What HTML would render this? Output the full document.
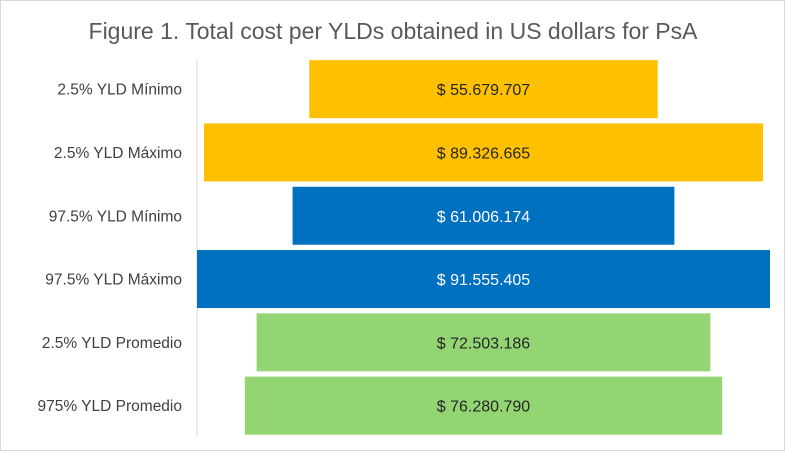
<!DOCTYPE html>
<html><head><meta charset="utf-8"><style>
html,body{margin:0;padding:0;background:#fff;}
#c{position:relative;width:785px;height:451px;box-sizing:border-box;border:1px solid #d9d9d9;font-family:"Liberation Sans",sans-serif;overflow:hidden;}
</style></head><body>
<div id="c">
<svg id="s" width="785" height="451" style="position:absolute;left:0;top:0">
<text x="392" y="38" text-anchor="middle" font-size="23" fill="#595959" font-family="Liberation Sans, sans-serif">Figure 1. Total cost per YLDs obtained in US dollars for PsA</text>
<line x1="196" y1="57" x2="196" y2="436" stroke="#d9d9d9" stroke-width="1"/>
</svg>
</div>
<script>
const categories=["2.5% YLD Mínimo","2.5% YLD Máximo","97.5% YLD Mínimo","97.5% YLD Máximo","2.5% YLD Promedio","975% YLD Promedio"];
const values=[55679707,89326665,61006174,91555405,72503186,76280790];
const valueLabels=["$ 55.679.707","$ 89.326.665","$ 61.006.174","$ 91.555.405","$ 72.503.186","$ 76.280.790"];
const colors=["#FFC000","#FFC000","#0070C0","#0070C0","#92D572","#92D572"];
const textColors=["#262626","#262626","#ffffff","#ffffff","#262626","#262626"];
const svg=document.getElementById('s');
const NS="http://www.w3.org/2000/svg";
const center=482.5, maxW=573, plotTop=56.5, rowH=63.3, barH=58;
const maxV=Math.max(...values);
function w(v){return v/maxV*maxW;}
function y(i){return plotTop+i*rowH;}
categories.forEach((c,i)=>{
  const r=document.createElementNS(NS,'rect');
  const bw=w(values[i]);
  r.setAttribute('x',center-bw/2);r.setAttribute('y',y(i)+(rowH-barH)/2);
  r.setAttribute('width',bw);r.setAttribute('height',barH);r.setAttribute('fill',colors[i]);
  
  
  svg.appendChild(r);
  const t=document.createElementNS(NS,'text');
  t.setAttribute('x',center);t.setAttribute('y',y(i)+rowH/2+6);
  t.setAttribute('text-anchor','middle');t.setAttribute('font-size','16');t.setAttribute('fill',textColors[i]);
  t.textContent=valueLabels[i];
  
  
  svg.appendChild(t);
  const l=document.createElementNS(NS,'text');
  l.setAttribute('x',181);l.setAttribute('y',y(i)+rowH/2+5.5);
  l.setAttribute('text-anchor','end');l.setAttribute('font-size','15.5');l.setAttribute('fill','#404040');
  l.textContent=c;
  
  
  svg.appendChild(l);
});
</script>
</body></html>
